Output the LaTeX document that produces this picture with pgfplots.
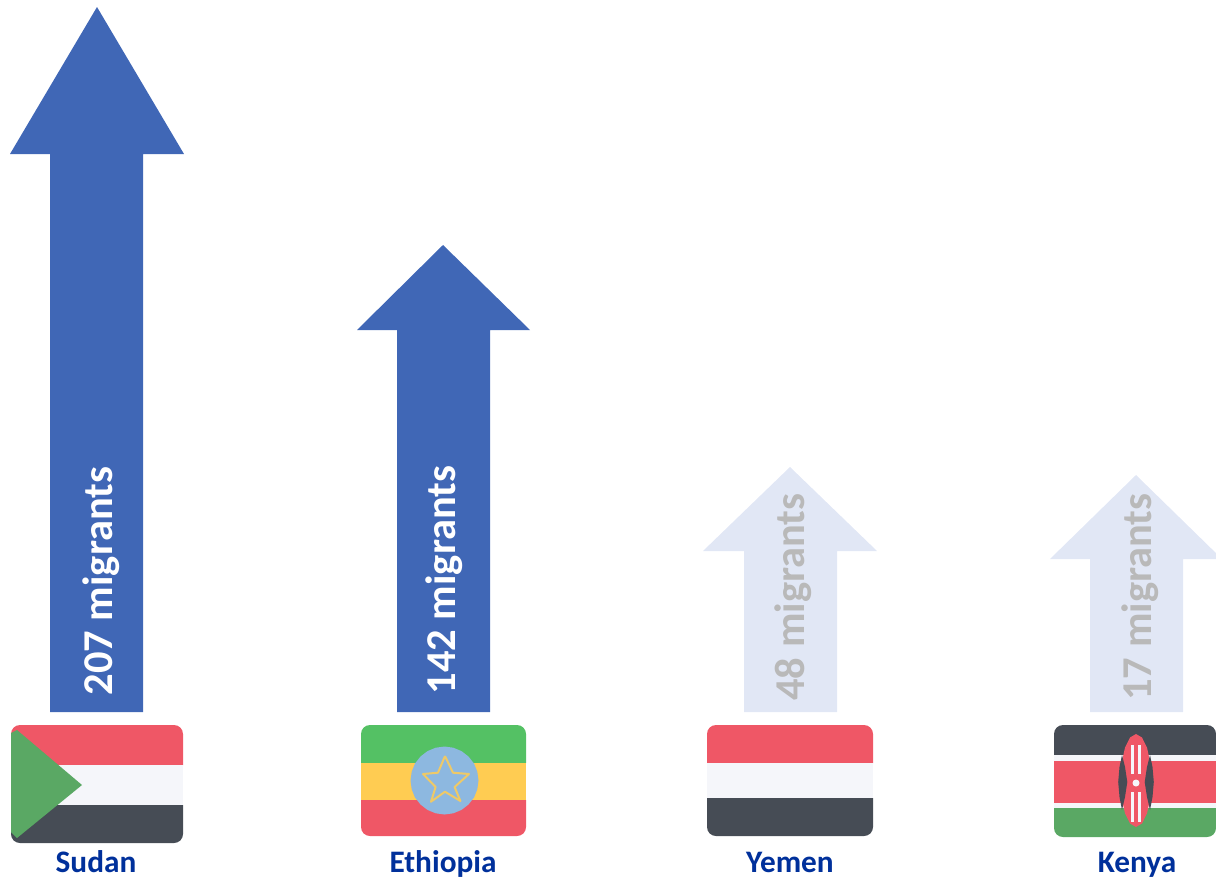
\documentclass[border=0pt]{standalone}
\usepackage{pgfplots}
\pgfplotsset{compat=1.18}
\usepackage{fontspec}
\setmainfont{Carlito}

\definecolor{arrowblue}{HTML}{4067B6}
\definecolor{arrowpale}{HTML}{E1E7F5}
\definecolor{fadetext}{HTML}{B9B9B9}
\definecolor{namecol}{HTML}{00309B}
\definecolor{fred}{HTML}{EF5766}
\definecolor{fwhite}{HTML}{F5F6FA}
\definecolor{fdark}{HTML}{464C55}
\definecolor{fgreen}{HTML}{5AA864}
\definecolor{fgreenb}{HTML}{54C164}
\definecolor{fyellow}{HTML}{FFCC52}
\definecolor{fblue}{HTML}{8DB8E0}

\pgfplotsset{
  shape/.style={fill=#1,draw=none,mark=none},
}
\newcommand{\armlabel}[4]{\node[rotate=90,inner sep=0pt,text=#3,font=\fontsize{42.5}{46}\selectfont\bfseries] at (axis cs:#1,#2) {#4};}
\newcommand{\country}[2]{\node[inner sep=0pt,anchor=base,text=namecol,font=\fontsize{31.3}{34}\selectfont\bfseries] at (axis cs:#1,872.8) {#2};}

\begin{document}
\begin{tikzpicture}
\begin{axis}[
    scale only axis,
    width=1216pt,
    height=879pt,
    xmin=0, xmax=1216,
    ymin=0, ymax=879,
    y dir=reverse,
    hide axis,
]

% arrows, in pixels of the picture
\addplot[shape=arrowblue] coordinates {(50,712)(50,154)(10,154)(97,7)(184,154)(143,154)(143,712)};
\addplot[shape=arrowblue] coordinates {(397,712)(397,330)(357,330)(443,245)(530,330)(490,330)(490,712)};
\addplot[shape=arrowpale] coordinates {(744,712)(744,551)(703,551)(790,467)(877,551)(837,551)(837,712)};
\addplot[shape=arrowpale] coordinates {(1090,712)(1090,559)(1050,559)(1136,475)(1222,559)(1183,559)(1183,712)};

\armlabel{101.5}{581}{white}{207 migrants}
\armlabel{444.5}{580}{white}{142 migrants}
\armlabel{793}{597}{fadetext}{48 migrants}
\armlabel{1140}{597}{fadetext}{17 migrants}

% Sudan
\addplot[shape=fred] coordinates {(11,765)(11,734)(11.7,730.5)(13.6,727.6)(16.5,725.7)(20,725)(174,725)(177.5,725.7)(180.4,727.6)(182.3,730.5)(183,734)(183,765)};
\addplot[shape=fwhite] coordinates {(11,765)(183,765)(183,805)(11,805)};
\addplot[shape=fdark] coordinates {(11,805)(183,805)(183,834)(182.3,837.5)(180.4,840.4)(177.5,842.3)(174,843)(20,843)(16.5,842.3)(13.6,840.4)(11.7,837.5)(11,834)};
\addplot[shape=fgreen] coordinates {(11,733)(17,730)(82,785)(17,838)(11,832)};

% Ethiopia
\addplot[shape=fgreenb] coordinates {(361,763)(361,734)(361.7,730.5)(363.6,727.6)(366.5,725.7)(370,725)(517,725)(520.5,725.7)(523.4,727.6)(525.3,730.5)(526,734)(526,763)};
\addplot[shape=fyellow] coordinates {(361,763)(526,763)(526,800)(361,800)};
\addplot[shape=fred] coordinates {(361,800)(526,800)(526,827)(525.3,830.5)(523.4,833.4)(520.5,835.3)(517,836)(370,836)(366.5,835.3)(363.6,833.4)(361.7,830.5)(361,827)};
\addplot[shape=fblue] coordinates {(478.5,780.5)(477.3,771.7)(474,763.5)(468.5,756.5)(461.5,751.1)(453.3,747.7)(444.5,746.5)(435.7,747.7)(427.5,751.1)(420.5,756.5)(415,763.5)(411.7,771.7)(410.5,780.5)(411.7,789.3)(415,797.5)(420.5,804.5)(427.5,809.9)(435.7,813.3)(444.5,814.5)(453.3,813.3)(461.5,809.9)(468.5,804.5)(474,797.5)(477.3,789.3)};
\addplot[fyellow!85!fblue,line width=2pt,mark=none,line join=round] coordinates {(445,756)(453,772.7)(469,774)(454.6,787)(460.4,801)(445,791.7)(431,801.7)(435.6,787)(423,774)(438,772.7)(445,756)};

% Yemen
\addplot[shape=fred] coordinates {(707,763)(707,734)(707.7,730.5)(709.6,727.6)(712.5,725.7)(716,725)(864,725)(867.5,725.7)(870.4,727.6)(872.3,730.5)(873,734)(873,763)};
\addplot[shape=fwhite] coordinates {(707,763)(873,763)(873,798)(707,798)};
\addplot[shape=fdark] coordinates {(707,798)(873,798)(873,827)(872.3,830.5)(870.4,833.4)(867.5,835.3)(864,836)(716,836)(712.5,835.3)(709.6,833.4)(707.7,830.5)(707,827)};

% Kenya
\addplot[shape=fdark] coordinates {(1054,755)(1054,734)(1054.7,730.5)(1056.6,727.6)(1059.5,725.7)(1063,725)(1207,725)(1210.5,725.7)(1213.4,727.6)(1215.3,730.5)(1216,734)(1216,755)};
\addplot[shape=fwhite] coordinates {(1054,755)(1216,755)(1216,761)(1054,761)};
\addplot[shape=fred] coordinates {(1054,761)(1216,761)(1216,803)(1054,803)};
\addplot[shape=fwhite] coordinates {(1054,803)(1216,803)(1216,808)(1054,808)};
\addplot[shape=fgreen] coordinates {(1054,808)(1216,808)(1216,828)(1215.3,831.5)(1213.4,834.4)(1210.5,836.3)(1207,837)(1063,837)(1059.5,836.3)(1056.6,834.4)(1054.7,831.5)(1054,828)};
% shield
\addplot[shape=fred] coordinates {(1136,734)(1142,737.5)(1147,747.6)(1150.3,762.7)(1151.5,780.5)(1150.3,798.3)(1147,813.4)(1142,823.5)(1136,827)(1130,823.5)(1125,813.4)(1121.7,798.3)(1120.5,780.5)(1121.7,762.7)(1125,747.6)(1130,737.5)};
\addplot[shape=fdark] coordinates {(1122,755)(1119.5,767)(1118.2,782)(1119.5,797)(1122,810)(1125,797)(1127.3,782)(1125,767)};
\addplot[shape=fdark] coordinates {(1150,755)(1152.5,767)(1153.8,782)(1152.5,797)(1150,810)(1147,797)(1144.7,782)(1147,767)};
\addplot[shape=fwhite] coordinates {(1131,745)(1134,745)(1134,774)(1131,774)};
\addplot[shape=fwhite] coordinates {(1138,745)(1141,745)(1141,774)(1138,774)};
\addplot[shape=fwhite] coordinates {(1131,792)(1134,792)(1134,822)(1131,822)};
\addplot[shape=fwhite] coordinates {(1138,792)(1141,792)(1141,822)(1138,822)};
\addplot[shape=fwhite] coordinates {(1139.5,783)(1138.5,785.5)(1136,786.5)(1133.5,785.5)(1132.5,783)(1133.5,780.5)(1136,779.5)(1138.5,780.5)};

\country{96}{Sudan}
\country{443}{Ethiopia}
\country{790}{Yemen}
\country{1137}{Kenya}

\end{axis}
\useasboundingbox (current axis.south west) rectangle (current axis.north east);
\end{tikzpicture}
\end{document}
